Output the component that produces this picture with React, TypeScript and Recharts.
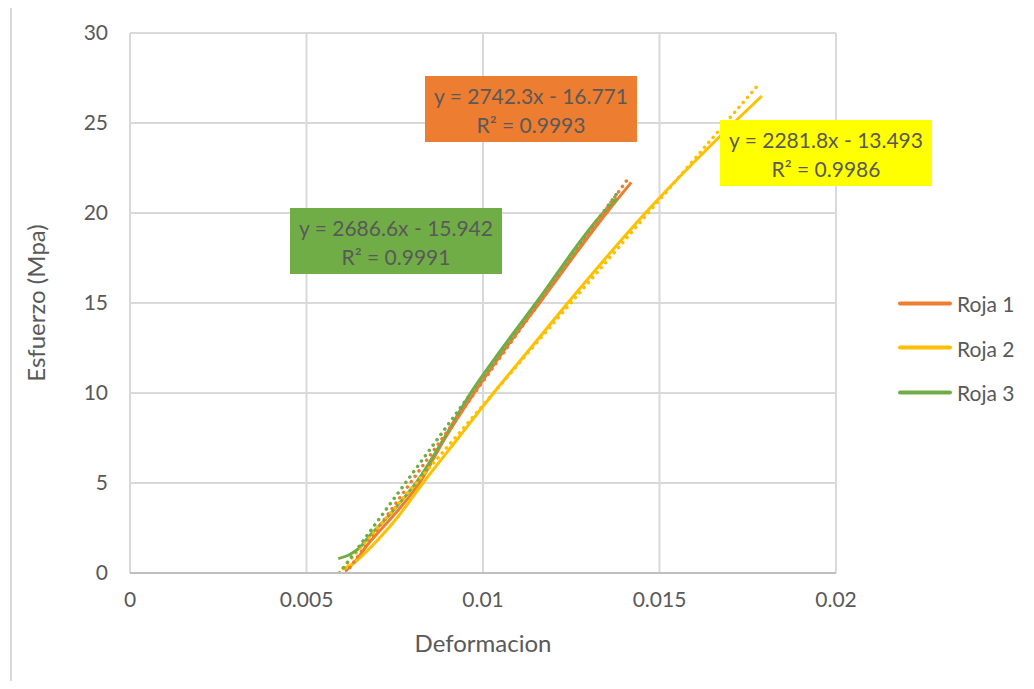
import { CartesianGrid, ComposedChart, Line, XAxis, YAxis } from "recharts"

const ORANGE = "#ed7d31"
const YELLOW = "#ffc000"
const GREEN = "#70ad47"
const GRID = "#d9d9d9"
const TEXT = "#595959"
const FONT = "Lato, 'Open Sans', sans-serif"

const X_TICKS = [0, 0.005, 0.01, 0.015, 0.02]
const Y_TICKS = [0, 5, 10, 15, 20, 25, 30]

// curvas medidas (deformacion, esfuerzo)
const roja1 = [
  { x: 0.0061, y: 0.1 },
  { x: 0.0064, y: 0.7 },
  { x: 0.0067, y: 1.5 },
  { x: 0.0071, y: 2.4 },
  { x: 0.0076, y: 3.5 },
  { x: 0.0082, y: 5.0 },
  { x: 0.0089, y: 7.4 },
  { x: 0.00975, y: 10.0 },
  { x: 0.01065, y: 12.5 },
  { x: 0.0116, y: 15.0 },
  { x: 0.0135, y: 20.0 },
  { x: 0.0142, y: 21.7 },
]

const roja2 = [
  { x: 0.006, y: 0.2 },
  { x: 0.0063, y: 0.5 },
  { x: 0.0066, y: 1.0 },
  { x: 0.007, y: 1.8 },
  { x: 0.0075, y: 2.9 },
  { x: 0.0083, y: 5.0 },
  { x: 0.0093, y: 7.5 },
  { x: 0.0103, y: 10.0 },
  { x: 0.01135, y: 12.5 },
  { x: 0.0124, y: 15.0 },
  { x: 0.0146, y: 20.0 },
  { x: 0.0171, y: 25.0 },
  { x: 0.0179, y: 26.5 },
]

const roja3 = [
  { x: 0.0059, y: 0.8 },
  { x: 0.0062, y: 1.0 },
  { x: 0.0065, y: 1.4 },
  { x: 0.0068, y: 2.1 },
  { x: 0.0072, y: 2.9 },
  { x: 0.0076, y: 3.8 },
  { x: 0.0081, y: 5.0 },
  { x: 0.0089, y: 7.5 },
  { x: 0.00965, y: 10.0 },
  { x: 0.01055, y: 12.5 },
  { x: 0.0115, y: 15.0 },
  { x: 0.0134, y: 20.0 },
  { x: 0.0138, y: 20.8 },
]

// lineas de tendencia (extremos)
const trend1 = [
  { x: 0.00612, y: 0 },
  { x: 0.01416, y: 22.05 },
]
const trend2 = [
  { x: 0.00592, y: 0 },
  { x: 0.01779, y: 27.1 },
]
const trend3 = [
  { x: 0.00594, y: 0 },
  { x: 0.0138, y: 21.1 },
]

const SERIES = [
  { name: "Roja 1", color: ORANGE, data: roja1, trend: trend1 },
  { name: "Roja 2", color: YELLOW, data: roja2, trend: trend2 },
  { name: "Roja 3", color: GREEN, data: roja3, trend: trend3 },
]

const LABELS = [
  { text: ["y = 2742.3x - 16.771", "R² = 0.9993"], bg: ORANGE, left: 425, top: 76 },
  { text: ["y = 2281.8x - 13.493", "R² = 0.9986"], bg: "#ffff00", left: 720, top: 120 },
  { text: ["y = 2686.6x - 15.942", "R² = 0.9991"], bg: GREEN, left: 290, top: 208 },
]

const TICK = { fill: TEXT, fontSize: 21, fontFamily: FONT }

export default function App() {
  return (
    <div
      style={{
        position: "relative",
        margin: -8,
        width: 1034,
        height: 689,
        overflow: "hidden",
        background: "#fff",
        fontFamily: FONT,
      }}
    >
      <div
        style={{
          position: "absolute",
          left: 10,
          top: 3,
          width: 1100,
          height: 800,
          border: "2px solid #d9d9d9",
        }}
      />
      <div style={{ position: "absolute", left: 0, top: 0 }}>
        <ComposedChart width={1034} height={689} margin={{ top: 33, right: 198, left: 70, bottom: 86 }}>
          <CartesianGrid stroke={GRID} strokeWidth={2} />
          <XAxis
            type="number"
            dataKey="x"
            domain={[0, 0.02]}
            ticks={X_TICKS}
            tick={TICK}
            tickLine={false}
            tickSize={0}
            tickMargin={19}
            height={30}
            axisLine={{ stroke: "#bfbfbf", strokeWidth: 2 }}
            allowDataOverflow
          />
          <YAxis
            type="number"
            dataKey="y"
            domain={[0, 30]}
            ticks={Y_TICKS}
            tick={TICK}
            tickLine={false}
            tickSize={0}
            tickMargin={22}
            width={60}
            axisLine={false}
            allowDataOverflow
          />
          {SERIES.map((s) => (
            <Line
              key={s.name}
              data={s.data}
              dataKey="y"
              type="monotone"
              stroke={s.color}
              strokeWidth={3}
              dot={false}
              isAnimationActive={false}
            />
          ))}
          {SERIES.map((s) => (
            <Line
              key={s.name + "-trend"}
              data={s.trend}
              dataKey="y"
              type="linear"
              stroke={s.color}
              strokeWidth={3.5}
              strokeDasharray="0.1 6.5"
              strokeLinecap="round"
              dot={false}
              isAnimationActive={false}
            />
          ))}
        </ComposedChart>
      </div>

      {LABELS.map((l) => (
        <div
          key={l.text[0]}
          style={{
            position: "absolute",
            left: l.left,
            top: l.top,
            width: 212,
            height: 66,
            background: l.bg,
            color: TEXT,
            fontSize: 21,
            lineHeight: "29px",
            textAlign: "center",
            paddingTop: 5,
            boxSizing: "border-box",
            whiteSpace: "nowrap",
          }}
        >
          <div>{l.text[0]}</div>
          <div>{l.text[1]}</div>
        </div>
      ))}

      <div
        style={{
          position: "absolute",
          left: 35,
          top: 303,
          transform: "translate(-50%, -50%) rotate(-90deg)",
          whiteSpace: "nowrap",
          color: TEXT,
          fontSize: 24,
        }}
      >
        Esfuerzo (Mpa)
      </div>
      <div
        style={{
          position: "absolute",
          left: 483,
          top: 642,
          transform: "translate(-50%, -50%)",
          whiteSpace: "nowrap",
          color: TEXT,
          fontSize: 24,
        }}
      >
        Deformacion
      </div>

      {SERIES.map((s, i) => (
        <div
          key={s.name}
          style={{
            position: "absolute",
            left: 898,
            top: 303 + i * 44.5,
            transform: "translateY(-50%)",
            display: "flex",
            alignItems: "center",
            color: TEXT,
            fontSize: 21,
          }}
        >
          <div style={{ width: 54, height: 4, borderRadius: 2, background: s.color, marginRight: 5 }} />
          <span>{s.name}</span>
        </div>
      ))}
    </div>
  )
}
